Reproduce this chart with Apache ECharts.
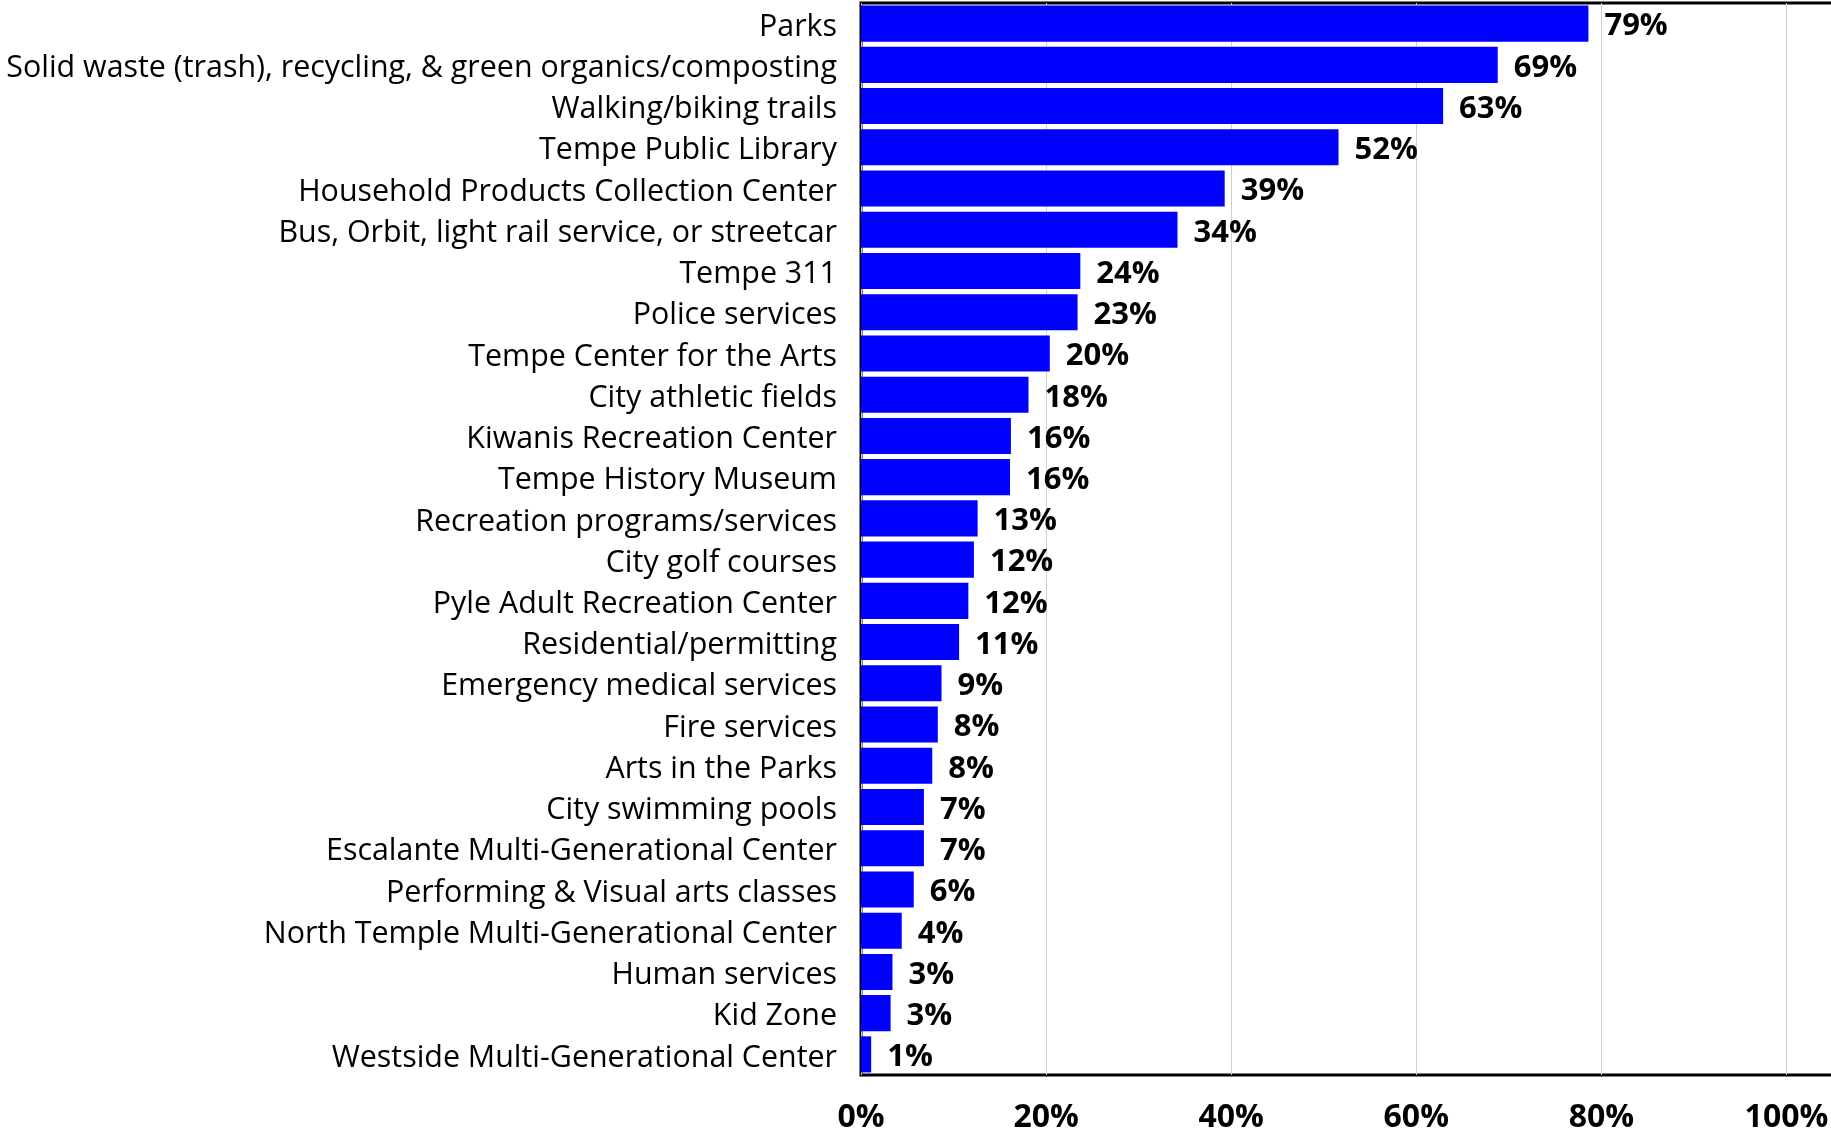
<!DOCTYPE html>
<html>
<head>
<meta charset="utf-8">
<script src="https://cdn.jsdelivr.net/npm/echarts@6/dist/echarts.min.js"></script>
<style>
  html, body { margin: 0; padding: 0; background: #fff; overflow: hidden; }
  /* plot runs off the right edge like the original */
  #chart { width: 1842px; height: 1131px; }
</style>
</head>
<body>
<div id="chart"></div>
<script>
// services, top to bottom
var services = [
  "Parks",
  "Solid waste (trash), recycling, & green organics/composting",
  "Walking/biking trails",
  "Tempe Public Library",
  "Household Products Collection Center",
  "Bus, Orbit, light rail service, or streetcar",
  "Tempe 311",
  "Police services",
  "Tempe Center for the Arts",
  "City athletic fields",
  "Kiwanis Recreation Center",
  "Tempe History Museum",
  "Recreation programs/services",
  "City golf courses",
  "Pyle Adult Recreation Center",
  "Residential/permitting",
  "Emergency medical services",
  "Fire services",
  "Arts in the Parks",
  "City swimming pools",
  "Escalante Multi-Generational Center",
  "Performing & Visual arts classes",
  "North Temple Multi-Generational Center",
  "Human services",
  "Kid Zone",
  "Westside Multi-Generational Center"
];
// percent used
var usedPct = [78.6, 68.8, 62.9, 51.6, 39.3, 34.2, 23.7, 23.4, 20.4, 18.1, 16.2, 16.1,
  12.6, 12.2, 11.6, 10.6, 8.7, 8.3, 7.7, 6.8, 6.8, 5.7, 4.4, 3.4, 3.2, 1.1];
var xTicks = [0, 20, 40, 60, 80, 100];

var chart = echarts.init(document.getElementById("chart"));
chart.setOption({
  animation: false,
  grid: {
    left: 861,
    top: 3,
    bottom: 56,
    right: 0,
    outerBoundsMode: "none",
    show: true,
    borderColor: "#000",
    borderWidth: 3
  },
  xAxis: {
    type: "value",
    min: 0,
    max: 106,
    interval: 20,
    axisLine: { show: false },
    axisTick: { show: false },
    splitLine: { lineStyle: { color: "#d0d0d0", width: 1 } },
    axisLabel: {
      margin: 27,
      color: "#000",
      fontFamily: "Open Sans",
      fontWeight: "bold",
      fontSize: 32,
      formatter: function (v) {
        return xTicks.indexOf(v) >= 0 ? v + "%" : "";
      }
    }
  },
  yAxis: {
    type: "category",
    inverse: true,
    data: services,
    axisLine: { show: false },
    axisTick: { show: false },
    axisLabel: {
      margin: 24,
      // nudge text down a few px to sit centred on the bars
      verticalAlign: "top",
      lineHeight: 7,
      color: "#000",
      fontFamily: "Open Sans",
      fontSize: 30.4
    }
  },
  series: [{
    type: "bar",
    data: usedPct,
    barCategoryGap: "12.5%",
    itemStyle: { color: "#0000ff" },
    label: {
      show: true,
      position: "right",
      distance: 16,
      offset: [0, 3],
      color: "#000",
      fontFamily: "Open Sans",
      fontWeight: "bold",
      fontSize: 31,
      formatter: function (p) { return Math.round(p.value) + "%"; }
    }
  }]
});
</script>
</body>
</html>
